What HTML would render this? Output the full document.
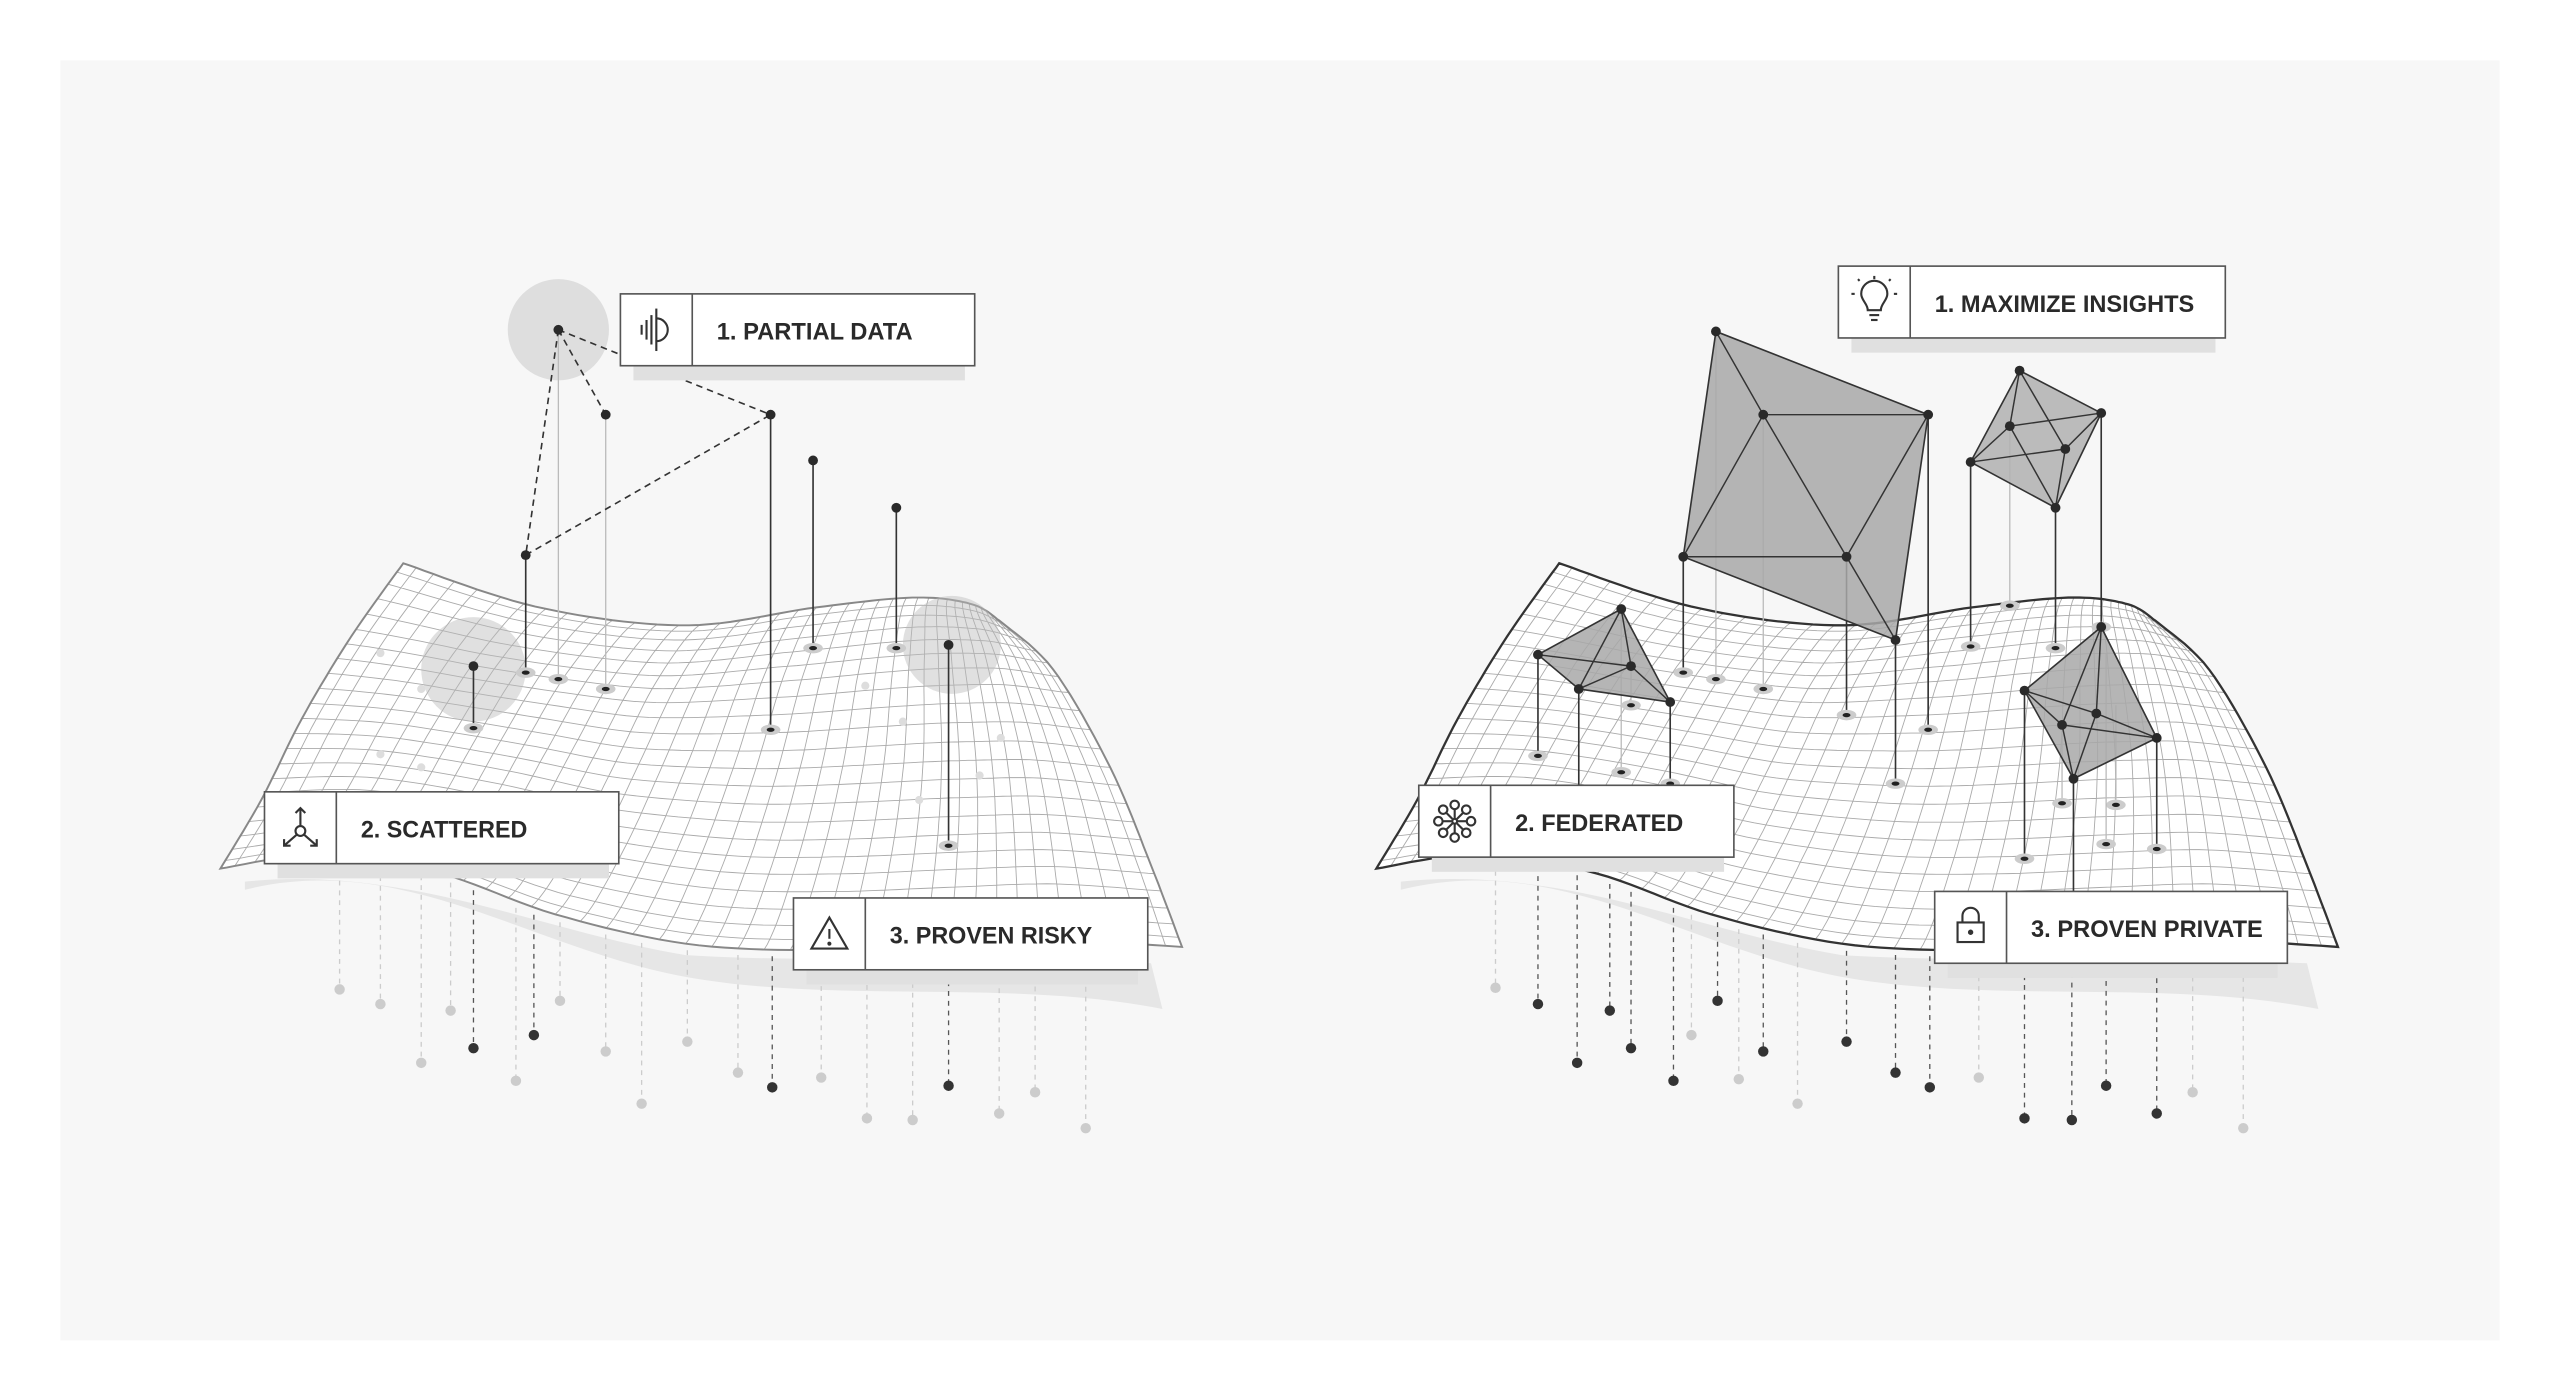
<!DOCTYPE html>
<html><head><meta charset="utf-8"><style>
html,body{margin:0;padding:0;background:#fff;width:2560px;height:1400px;overflow:hidden}
svg{display:block}
.lbl{font-family:"Liberation Sans Narrow","Liberation Sans",sans-serif;font-weight:bold;font-size:15px;fill:#2a2a2a}
</style></head><body>
<svg id="s" width="2560" height="1400" viewBox="0 0 1568 857.5" xmlns="http://www.w3.org/2000/svg">
<rect x="0" y="0" width="1568" height="857.5" fill="#fff"/>
<rect x="37" y="37" width="1494" height="784" fill="#f7f7f7"/>
<g id="scene"></g>
</svg>
<script>
(function(){
const scene=document.getElementById('scene');
let out="";
function cr(pts,t){const n=pts.length-1;let f=t*n;let i=Math.min(Math.floor(f),n-1);let s=f-i;
 const p0=pts[Math.max(i-1,0)],p1=pts[i],p2=pts[i+1],p3=pts[Math.min(i+2,n)];
 const s2=s*s,s3=s2*s;
 return [0,1].map(k=>0.5*((2*p1[k])+(-p0[k]+p2[k])*s+(2*p0[k]-5*p1[k]+4*p2[k]-p3[k])*s2+(-p0[k]+3*p1[k]-3*p2[k]+p3[k])*s3));}
const T=[[247,345],[330,372],[420,383],[500,372],[560,366],[595,370],[612,380]];
const R=[[612,380],[645,410],[680,470],[705,530],[724,580]];
const B=[[135,532],[200,523],[270,535],[340,560],[420,578],[500,582],[580,579],[650,576],[724,580]];
const L=[[247,345],[215,390],[185,440],[160,490],[135,532]];
function P(u,v,dx){const t=cr(T,u),b=cr(B,u),l=cr(L,v),r=cr(R,v);
 const TL=T[0],TR=T[T.length-1],BL=B[0],BR=B[B.length-1];
 const x=(1-v)*t[0]+v*b[0]+(1-u)*l[0]+u*r[0]-((1-u)*(1-v)*TL[0]+u*(1-v)*TR[0]+(1-u)*v*BL[0]+u*v*BR[0]);
 const y=(1-v)*t[1]+v*b[1]+(1-u)*l[1]+u*r[1]-((1-u)*(1-v)*TL[1]+u*(1-v)*TR[1]+(1-u)*v*BL[1]+u*v*BR[1]);
 return [x+dx,y];}
function bottomY(x,dx){let best=1e9,by=560;for(let i=0;i<=200;i++){const p=cr(B,i/200);const d=Math.abs(p[0]+dx-x);if(d<best){best=d;by=p[1];}}return by;}
function surface(dx,outline,ow){
 out+=`<path d="M${150+dx},545 C${250+dx},520 ${330+dx},585 ${430+dx},600 C${520+dx},614 ${620+dx},600 ${712+dx},618 L${705+dx},590 C${600+dx},585 ${500+dx},590 ${420+dx},585 C${330+dx},570 ${250+dx},530 ${150+dx},540 Z" fill="#e6e6e6"/>`;
 let d="";const NU=40,NV=22,S=40;
 for(let i=0;i<=NU;i++){const u=i/NU;d+="M";for(let j=0;j<=S;j++){const p=P(u,j/S,dx);d+=(j?"L":"")+p[0].toFixed(1)+","+p[1].toFixed(1)+" ";}}
 for(let j=0;j<=NV;j++){const v=j/NV;d+="M";for(let i=0;i<=S*2;i++){const p=P(i/(S*2),v,dx);d+=(i?"L":"")+p[0].toFixed(1)+","+p[1].toFixed(1)+" ";}}
 let o="M";const pts=[];
 for(let i=0;i<=80;i++)pts.push(P(i/80,0,dx));
 for(let i=0;i<=40;i++)pts.push(P(1,i/40,dx));
 for(let i=80;i>=0;i--)pts.push(P(i/80,1,dx));
 for(let i=40;i>=0;i--)pts.push(P(0,i/40,dx));
 o+=pts.map(p=>p[0].toFixed(1)+","+p[1].toFixed(1)).join(" L")+"Z";
 out+=`<path d="${o}" fill="#fff"/>`;
 out+=`<path d="${d}" fill="none" stroke="#aaa" stroke-width="0.55"/>`;
 out+=`<path d="${o}" fill="none" stroke="${outline}" stroke-width="${ow}"/>`;
}
function drops(list,dx){list.forEach(([x,y,dk])=>{const y0=bottomY(x,dx)+4;const c=dk?"#333":"#ccc";
 out+=`<line x1="${x}" y1="${y0}" x2="${x}" y2="${y}" stroke="${dk?'#555':'#ccc'}" stroke-width="0.8" stroke-dasharray="3,3"/>`;
 out+=`<circle cx="${x}" cy="${y}" r="3.2" fill="${c}"/>`;});}
function marker(x,y){out+=`<ellipse cx="${x}" cy="${y}" rx="6" ry="3.2" fill="#ccc"/><ellipse cx="${x}" cy="${y}" rx="2.4" ry="1.3" fill="#222"/>`;}
function vline(x1,y1,y2,dark){out+=`<line x1="${x1}" y1="${y1}" x2="${x1}" y2="${y2}" stroke="${dark?'#333':'#bbb'}" stroke-width="${dark?1:0.8}"/>`;marker(x1,y2);}
function dot(x,y,r){out+=`<circle cx="${x}" cy="${y}" r="${r||3}" fill="#2a2a2a"/>`;}
function box(x,y,w,label,icon,tl){out+=`<rect x="${x+8}" y="${y+44}" width="${w-14}" height="9" fill="#e0e0e0"/>`;
 out+=`<rect x="${x}" y="${y}" width="${w}" height="44" fill="#fff" stroke="#555" stroke-width="1"/>`;
 out+=`<line x1="${x+44}" y1="${y}" x2="${x+44}" y2="${y+44}" stroke="#555" stroke-width="1"/>`;
 out+=`<g transform="translate(${x+22},${y+22})" stroke="#333" fill="none" stroke-width="1.3">${icon}</g>`;
 out+=`<text class="lbl" x="${x+59}" y="${y+28}" textLength="${tl}" lengthAdjust="spacingAndGlyphs">${label}</text>`;}

/* LEFT */
surface(0,"#888",1.2);
out+=`<circle cx="342" cy="202" r="31" fill="#dedede"/>`;
out+=`<circle cx="290" cy="410" r="32" fill="#bbb" opacity="0.45"/><circle cx="583" cy="395" r="30" fill="#bbb" opacity="0.45"/>`;
[[233,400],[258,422],[530,420],[553,442],[613,452],[563,490],[600,475],[233,462],[258,470]].forEach(p=>out+=`<circle cx="${p[0]}" cy="${p[1]}" r="2.5" fill="#ddd"/>`);
drops([[208,606,0],[233,615,0],[258,651,0],[276,619,0],[290,642,1],[316,662,0],[327,634,1],[343,613,0],[371,644,0],[393,676,0],[421,638,0],[452,657,0],[473,666,1],[503,660,0],[531,685,0],[559,686,0],[581,665,1],[612,682,0],[634,669,0],[665,691,0]],0);
vline(342,202,416,0);vline(371,254,422,0);vline(322,340,412,1);vline(472,254,447,1);vline(498,282,397,1);vline(549,311,397,1);vline(290,408,446,1);vline(581,395,518,1);
out+=`<g stroke="#333" stroke-width="1" stroke-dasharray="4,3" fill="none"><line x1="342" y1="202" x2="322" y2="340"/><line x1="342" y1="202" x2="371" y2="254"/><line x1="342" y1="202" x2="472" y2="254"/><line x1="322" y1="340" x2="472" y2="254"/></g>`;
[[342,202],[371,254],[322,340],[472,254],[498,282],[549,311],[290,408],[581,395]].forEach(p=>dot(p[0],p[1]));
box(380,180,217,"1. PARTIAL DATA",`<line x1="-9" y1="-3" x2="-9" y2="3"/><line x1="-6" y1="-6" x2="-6" y2="6"/><line x1="-3" y1="-9" x2="-3" y2="9"/><line x1="0" y1="-13" x2="0" y2="13"/><path d="M0,-7 A7,7 0 0 1 0,7"/>`,120);
box(162,485,217,"2. SCATTERED",`<circle cx="0" cy="2" r="3"/><line x1="0" y1="-1" x2="0" y2="-12"/><path d="M-3,-9 L0,-12 L3,-9"/><line x1="-2" y1="4" x2="-10" y2="11"/><path d="M-10,7 L-10,11 L-6,11"/><line x1="2" y1="4" x2="10" y2="11"/><path d="M10,7 L10,11 L6,11"/>`,102);
box(486,550,217,"3. PROVEN RISKY",`<path d="M0,-10 L11,9 L-11,9 Z"/><line x1="0" y1="-3" x2="0" y2="3"/><circle cx="0" cy="6" r="0.6" fill="#333"/>`,124);

/* RIGHT */
const dx=708;
surface(dx,"#333",1.4);
drops([[916,605,0],[942,615,1],[966,651,1],[986,619,1],[999,642,1],[1025,662,1],[1036,634,0],[1052,613,1],[1080,644,1],[1065,661,0],[1101,676,0],[1131,638,1],[1161,657,1],[1182,666,1],[1212,660,0],[1240,685,1],[1269,686,1],[1290,665,1],[1321,682,1],[1343,669,0],[1374,691,0]],dx);
function poly(pts,fill){out+=`<polygon points="${pts.map(p=>p.join(',')).join(' ')}" fill="${fill}" fill-opacity="0.85" stroke="#333" stroke-width="1"/>`;}
function edges(E){E.forEach(([a,b])=>out+=`<line x1="${a[0]}" y1="${a[1]}" x2="${b[0]}" y2="${b[1]}" stroke="#333" stroke-width="0.9"/>`);}
vline(1051,203,416,0);vline(1080,254,422,0);vline(1031,341,412,1);vline(1131,341,438,1);vline(1161,392,480,1);vline(1181,254,447,1);
vline(1207,283,396,1);vline(1231,261,371,0);vline(1259,311,397,1);vline(1287,253,384,1);
vline(942,401,463,1);vline(993,373,473,0);vline(999,408,432,0);vline(1023,430,480,1);
out+=`<line x1="967" y1="422" x2="967" y2="481" stroke="#333"/>`;
vline(1240,423,526,1);vline(1263,444,492,0);vline(1296,432,493,0);vline(1321,452,520,1);vline(1290,400,517,0);
out+=`<line x1="1270" y1="477" x2="1270" y2="546" stroke="#333"/>`;
let A=[1051,203],Bq=[1080,254],C=[1181,254],D=[1031,341],E=[1131,341],F=[1161,392];
poly([A,C,F,D],"#a8a8a8");edges([[A,Bq],[Bq,C],[Bq,D],[Bq,E],[D,E],[C,E],[E,F]]);[A,Bq,C,D,E,F].forEach(p=>dot(p[0],p[1]));
let t=[1237,227],l=[1207,283],m1=[1231,261],m2=[1265,275],r=[1287,253],bt=[1259,311];
poly([t,r,bt,l],"#b0b0b0");edges([[t,m1],[t,m2],[m1,l],[m1,r],[m1,bt],[m2,l],[m2,r],[m2,bt]]);[t,l,m1,m2,r,bt].forEach(p=>dot(p[0],p[1]));
let T2=[993,373],L2=[942,401],M2=[967,422],N2=[999,408],R2=[1023,430];
poly([T2,R2,M2,L2],"#a8a8a8");edges([[T2,M2],[T2,N2],[L2,N2],[N2,R2],[M2,N2]]);[T2,L2,M2,N2,R2].forEach(p=>dot(p[0],p[1]));
let T3=[1287,384],L3=[1240,423],M3=[1284,437],N3=[1263,444],R3=[1321,452],B3=[1270,477];
poly([T3,R3,B3,L3],"#a8a8a8");edges([[T3,M3],[T3,N3],[L3,M3],[L3,N3],[M3,R3],[N3,R3],[M3,B3],[N3,B3]]);[T3,L3,M3,N3,R3,B3].forEach(p=>dot(p[0],p[1]));
box(1126,163,237,"1. MAXIMIZE INSIGHTS",`<path d="M-4,5 C-4,1 -8,-1 -8,-5 A8,8 0 0 1 8,-5 C8,-1 4,1 4,5 Z"/><line x1="-3" y1="8" x2="3" y2="8"/><line x1="-2" y1="11" x2="2" y2="11"/><line x1="0" y1="-16" x2="0" y2="-14"/><line x1="-12" y1="-5" x2="-14" y2="-5"/><line x1="12" y1="-5" x2="14" y2="-5"/><line x1="-9" y1="-13" x2="-10" y2="-14"/><line x1="9" y1="-13" x2="10" y2="-14"/>`,159);
box(869,481,193,"2. FEDERATED",`<circle cx="0" cy="0" r="1.5"/><g>${[0,45,90,135,180,225,270,315].map(a=>{const c=Math.cos(a*Math.PI/180),s=Math.sin(a*Math.PI/180);return `<line x1="${2*c}" y1="${2*s}" x2="${7*c}" y2="${7*s}"/><circle cx="${10*c}" cy="${10*s}" r="2.6"/>`}).join('')}</g>`,103);
box(1185,546,216,"3. PROVEN PRIVATE",`<rect x="-8" y="-3" width="16" height="12"/><path d="M-5,-3 L-5,-7 A5,5 0 0 1 5,-7 L5,-3"/><circle cx="0" cy="3" r="1" fill="#333"/>`,142);
scene.innerHTML=out;
})();
</script>
</body></html>
